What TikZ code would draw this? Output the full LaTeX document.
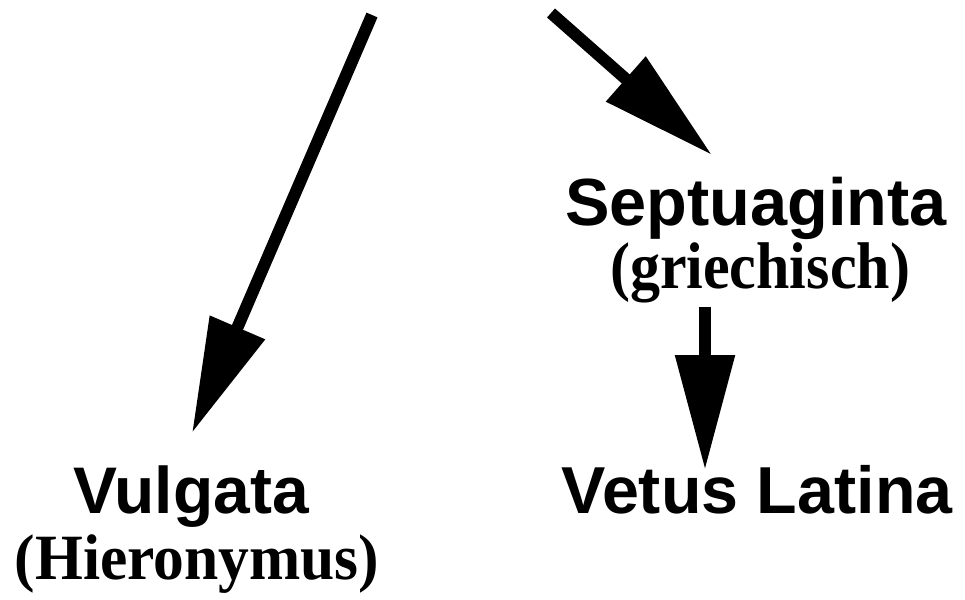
\documentclass[tikz,border=0pt]{standalone}
\usepackage{fontspec}
\setmainfont{Liberation Serif}
\setsansfont{Liberation Sans}
\usetikzlibrary{arrows.meta}
\tikzset{
  bigarrow/.style={line width=12pt, -{Triangle[length=115pt,width=57pt]}},
  titlelabel/.style={inner sep=0pt, anchor=base, font=\sffamily\bfseries},
  sublabel/.style={inner sep=0pt, anchor=base, font=\rmfamily\bfseries}
}
\begin{document}
\begin{tikzpicture}[x=1pt,y=-1pt]
\useasboundingbox (0,0) rectangle (965,599);
% labels
\node[titlelabel] (sept) at (756,225) {\fontsize{66.7}{70}\selectfont Septuaginta};
\node[sublabel] (griech) at (760,288) {\scalebox{1}[1.1]{\fontsize{60}{64}\selectfont (griechisch)}};
\node[titlelabel] (vulg) at (191,513) {\fontsize{65.9}{70}\selectfont Vulgata};
\node[sublabel] (hier) at (197,579) {\scalebox{1}[1.05]{\fontsize{61.5}{64}\selectfont (Hieronymus)}};
\node[titlelabel] (vetus) at (757,513) {\fontsize{66.4}{70}\selectfont Vetus Latina};
% arrow ends
\coordinate (s1) at (372,15);
\coordinate (t1) at (192,433);
\coordinate (s2) at (551,13);
\coordinate (t2) at (712,155);
\coordinate (s3) at (705,307);
\coordinate (t3) at (705,470);
\draw[bigarrow] (s1) -- (t1);
\draw[bigarrow] (s2) -- (t2);
\draw[bigarrow] (s3) -- (t3);
\end{tikzpicture}
\end{document}
